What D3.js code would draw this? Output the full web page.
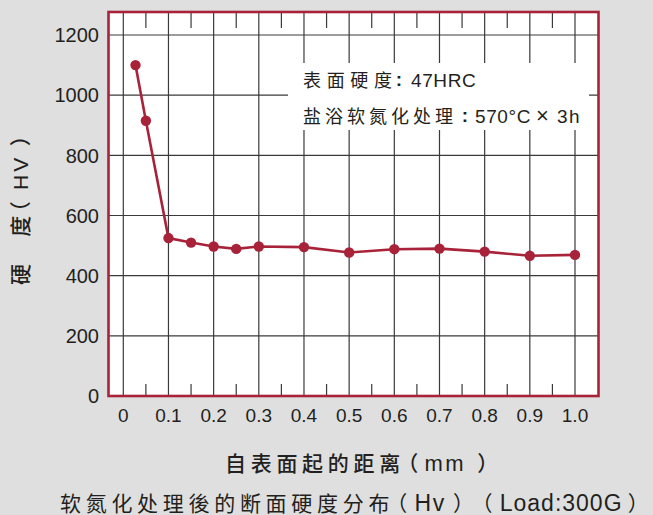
<!DOCTYPE html>
<html>
<head>
<meta charset="utf-8">
<script src="https://cdnjs.cloudflare.com/ajax/libs/d3/7.8.5/d3.min.js"></script>
<style>
    html, body {
        margin: 0;
        padding: 0;
        background: #dfdfdf;
    }
    svg {
        display: block;
        font-family: "Liberation Sans", Arial, "Noto Sans CJK SC", sans-serif;
    }
    .cjk {
        font-family: "Liberation Sans", "Noto Sans CJK SC", sans-serif;
        font-feature-settings: "palt" 1;
    }
</style>
</head>
<body>
<div id="chart"></div>
<script>
    // data
    const distances = [0.027, 0.05, 0.1, 0.15, 0.2, 0.25, 0.3, 0.4, 0.5, 0.6, 0.7, 0.8, 0.9, 1.0];
    const hardness = [1100, 915, 525, 510, 497, 489, 497, 495, 477, 488, 490, 480, 466, 469];

    const xTicks = [0, 0.1, 0.2, 0.3, 0.4, 0.5, 0.6, 0.7, 0.8, 0.9, 1.0];
    const xMinorTicks = [0.05, 0.15, 0.25, 0.35, 0.45, 0.55, 0.65, 0.75, 0.85, 0.95];
    const yTicks = [0, 200, 400, 600, 800, 1000, 1200];

    const yTitle = "硬　度（ HV ）";
    // titles split in runs: [text, dx, letter-spacing, font-size]
    const xTitleRuns = [
        ["自表面起的距离", 0, 4.7, 21], ["（", 2, 0, 21], ["mm", 7, 2.5, 22], ["）", 12, 0, 21]
    ];
    const captionRuns = [
        ["软氮化处理後的断面硬度分布", 0, 4.7, 21], ["（", 2, 0, 21], ["Hv", 8, 1.5, 23],
        ["）", 8, 0, 21], ["（", 17, 0, 21], ["Load:300G", 8, 1.0, 23], ["）", 6, 0, 21]
    ];
    // note lines
    const noteLabels = ["表面硬度", "盐浴软氮化处理"];
    const noteValues = ["47HRC", "570°C"];

    const W = 653, H = 515;
    const frame = {left: 108.5, top: 12, right: 598.5, bottom: 396};
    const red = "#a82339";
    const gridColor = "#3a3a3a";
    const ink = "#231f20";

    const x = d3.scaleLinear()
        .domain([0, 1])
        .range([123.3, 575]);
    const y = d3.scaleLinear()
        .domain([0, 1200])
        .range([frame.bottom, 35]);

    const svg = d3.select("#chart")
        .append("svg")
        .attr("width", W)
        .attr("height", H);

    svg.append("rect")
        .attr("width", W)
        .attr("height", H)
        .attr("fill", "#dfdfdf");

    // plot background
    svg.append("rect")
        .attr("x", frame.left)
        .attr("y", frame.top)
        .attr("width", frame.right - frame.left)
        .attr("height", frame.bottom - frame.top)
        .attr("fill", "#fff");

    const grid = svg.append("g")
        .attr("stroke", gridColor)
        .attr("stroke-width", 1.2);

    grid.selectAll(".hgrid")
        .data(yTicks.filter(d => d > 0))
        .join("line")
        .attr("class", "hgrid")
        .attr("x1", frame.left)
        .attr("x2", frame.right)
        .attr("y1", d => y(d))
        .attr("y2", d => y(d));

    grid.selectAll(".vgrid")
        .data(xTicks)
        .join("line")
        .attr("class", "vgrid")
        .attr("x1", d => x(d))
        .attr("x2", d => x(d))
        .attr("y1", frame.top)
        .attr("y2", frame.bottom);

    // minor ticks, top and bottom
    grid.selectAll(".mtop")
        .data(xMinorTicks)
        .join("line")
        .attr("class", "mtop")
        .attr("x1", d => x(d))
        .attr("x2", d => x(d))
        .attr("y1", frame.top)
        .attr("y2", frame.top + 16);

    grid.selectAll(".mbot")
        .data(xMinorTicks)
        .join("line")
        .attr("class", "mbot")
        .attr("x1", d => x(d))
        .attr("x2", d => x(d))
        .attr("y1", frame.bottom - 12)
        .attr("y2", frame.bottom);

    // note box hides the grid behind it
    svg.append("rect")
        .attr("x", 288)
        .attr("y", 63)
        .attr("width", 301)
        .attr("height", 67)
        .attr("fill", "#fff");

    const note = svg.append("g")
        .attr("fill", ink)
        .selectAll("g")
        .data(noteLabels)
        .join("g")
        .attr("transform", (d, i) => `translate(0,${87 + i * 35.5})`);

    note.append("text")
        .attr("class", "cjk")
        .attr("x", 303)
        .attr("font-size", 18)
        .attr("textLength", (d, i) => i === 0 ? 89 : 150)
        .attr("lengthAdjust", "spacing")
        .text(d => d);

    note.append("text")
        .attr("x", (d, i) => i === 0 ? 399 : 465)
        .attr("y", -1)
        .attr("text-anchor", "middle")
        .attr("font-size", 19)
        .attr("font-weight", "bold")
        .text(":");

    note.append("text")
        .attr("x", (d, i) => i === 0 ? 411 : 475)
        .attr("font-size", 19)
        .attr("letter-spacing", 0.6)
        .text((d, i) => noteValues[i]);

    note.filter((d, i) => i === 1)
        .append("text")
        .attr("class", "cjk")
        .attr("x", 536)
        .attr("font-size", 22)
        .text("×");

    note.filter((d, i) => i === 1)
        .append("text")
        .attr("x", 557)
        .attr("font-size", 19)
        .attr("letter-spacing", 1.5)
        .text("3h");

    // series
    const points = distances.map((d, i) => [d, hardness[i]]);

    svg.append("path")
        .datum(points)
        .attr("fill", "none")
        .attr("stroke", red)
        .attr("stroke-width", 2.6)
        .attr("d", d3.line().x(d => x(d[0])).y(d => y(d[1])));

    svg.append("g")
        .selectAll("circle")
        .data(points)
        .join("circle")
        .attr("cx", d => x(d[0]))
        .attr("cy", d => y(d[1]))
        .attr("r", 5.2)
        .attr("fill", red);

    // frame
    svg.append("rect")
        .attr("x", frame.left)
        .attr("y", frame.top)
        .attr("width", frame.right - frame.left)
        .attr("height", frame.bottom - frame.top)
        .attr("fill", "none")
        .attr("stroke", red)
        .attr("stroke-width", 2.6);

    // tick labels
    svg.append("g")
        .selectAll("text")
        .data(yTicks)
        .join("text")
        .attr("x", 99)
        .attr("y", d => y(d))
        .attr("dy", "0.36em")
        .attr("text-anchor", "end")
        .attr("font-size", 20)
        .attr("fill", ink)
        .text(d => d);

    svg.append("g")
        .selectAll("text")
        .data(xTicks)
        .join("text")
        .attr("x", d => x(d))
        .attr("y", 422)
        .attr("text-anchor", "middle")
        .attr("font-size", 19)
        .attr("fill", ink)
        .text(d => d === 0 ? "0" : d3.format(".1f")(d));

    // titles
    const runs = (sel, data) => sel.selectAll("tspan")
        .data(data)
        .join("tspan")
        .attr("dx", d => d[1])
        .attr("letter-spacing", d => d[2])
        .attr("font-size", d => d[3])
        .text(d => d[0]);

    svg.append("text")
        .attr("class", "cjk")
        .attr("x", 225)
        .attr("y", 471)
        .attr("font-weight", 500)
        .attr("fill", ink)
        .call(runs, xTitleRuns);

    svg.append("text")
        .attr("class", "cjk")
        .attr("x", 60)
        .attr("y", 511)
        .attr("fill", ink)
        .call(runs, captionRuns);

    svg.append("text")
        .attr("class", "cjk")
        .attr("transform", "translate(28,285) rotate(-90)")
        .attr("font-size", 21)
        .attr("font-weight", 500)
        .attr("textLength", 150)
        .attr("lengthAdjust", "spacing")
        .attr("fill", ink)
        .text(yTitle);
</script>
</body>
</html>
